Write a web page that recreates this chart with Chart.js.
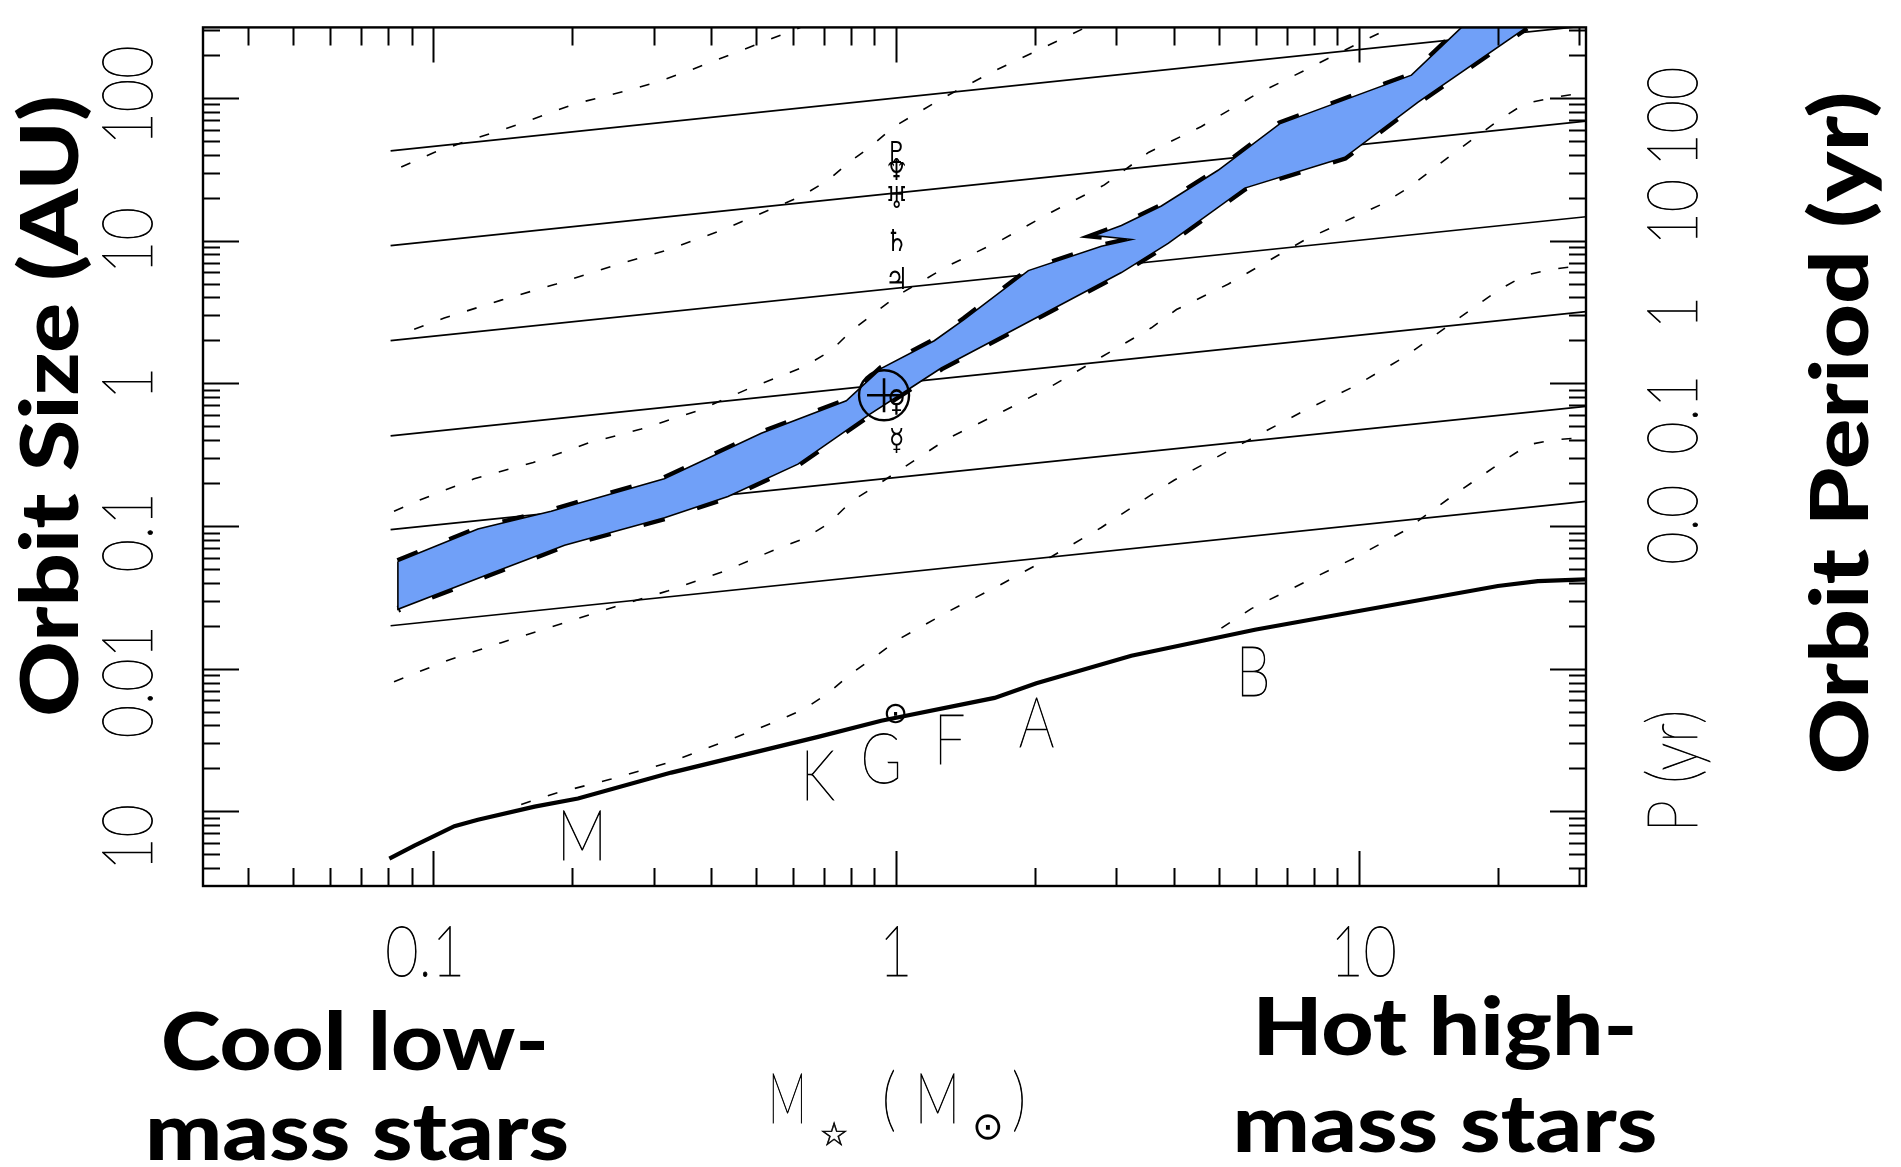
<!DOCTYPE html>
<html>
<head>
<meta charset="utf-8">
<title>Orbit size and period vs stellar mass</title>
<script src="https://cdn.jsdelivr.net/npm/chart.js@4.4.0/dist/chart.umd.min.js"></script>
<style>
  html, body { margin: 0; padding: 0; background: #fff; }
  #wrap { position: relative; width: 1901px; height: 1167px; }
</style>
</head>
<body>
<div id="wrap"><canvas id="orbitChart" width="1901" height="1167"></canvas></div>
<script>
// axis ranges: stellar mass (Msun) and orbit size (AU)
const massRange = [0.0319, 31.0];
const auRange = [3.19e-4, 312];

// constant-period lines, P = 1000 ... 0.01 yr
const periodNames = ['1000', '100', '10', '1', '0.1', '0.01'];
const periodMass = [0.0811, 31.0];
const periodAUStart = [42.6, 9.23, 1.99, 0.428, 0.0942, 0.0200];
const periodAUEnd = [320, 68.7, 14.7, 3.18, 0.689, 0.149];

// habitable zone, outer and inner edge
const hzOuterMass = [0.0841, 0.1252, 0.1803, 0.2021, 0.3164, 0.5126, 0.7824, 0.9314, 1.212, 1.407, 1.935, 2.783, 3.231, 2.687, 3.074, 3.751, 4.973, 6.755, 13.01, 16.69];
const hzOuterAU = [0.0563, 0.0953, 0.1270, 0.1417, 0.2143, 0.4465, 0.7535, 1.274, 1.988, 2.809, 6.164, 9.13, 10.19, 10.85, 12.76, 17.47, 31.1, 65.8, 144.4, 312];
const hzInnerMass = [0.0841, 0.1316, 0.1927, 0.3168, 0.4344, 0.6152, 0.8717, 1.081, 1.255, 1.778, 3.074, 3.879, 5.677, 9.338, 13.45, 23.06];
const hzInnerAU = [0.0261, 0.0457, 0.0733, 0.1143, 0.1607, 0.2713, 0.5953, 0.9347, 1.280, 2.326, 5.972, 9.57, 23.33, 38.33, 93.5, 312];

// dashed flux curves
const flux1Mass = [0.0855, 0.1007, 0.1170, 0.1530, 0.2021, 0.2658, 0.3071, 0.3565, 0.4641, 0.6254];
const flux1AU = [32.8, 41.5, 49.1, 65.1, 90.6, 113.4, 130.0, 154.6, 215.0, 313.5];
const flux2Mass = [0.0912, 0.1059, 0.1406, 0.1849, 0.2455, 0.3194, 0.4201, 0.5579, 0.6254, 0.7153, 0.7943, 0.8773, 0.9936, 1.274, 1.634, 2.138, 2.583];
const flux2AU = [2.389, 2.866, 3.827, 4.969, 6.667, 8.532, 11.79, 17.47, 20.45, 26.58, 35.44, 44.87, 63.1, 101.1, 154.6, 233.7, 313.5];
const flux3Mass = [0.0825, 0.0944, 0.1229, 0.1649, 0.2168, 0.2821, 0.3748, 0.4879, 0.6344, 0.7261, 0.8020, 0.8995, 1.0135, 1.300, 1.692, 2.170, 2.825, 3.517, 4.577, 5.958, 7.603, 9.800, 11.78];
const flux3AU = [0.1270, 0.1534, 0.2144, 0.2787, 0.3815, 0.4777, 0.6441, 0.9346, 1.306, 1.698, 2.326, 3.100, 4.160, 6.667, 10.08, 15.82, 24.57, 41.48, 63.1, 104.3, 154.6, 233.7, 313.5];
const flux4Mass = [0.0825, 0.1080, 0.1406, 0.1867, 0.2467, 0.3227, 0.4264, 0.5579, 0.6350, 0.7153, 0.8020, 0.8995, 1.029, 1.300, 1.667, 2.170, 2.783, 3.569, 4.043, 5.236, 7.641, 11.21, 12.82, 16.12, 20.36, 22.84, 26.51, 31.24];
const flux4AU = [8.11e-3, 0.01147, 0.01522, 0.02029, 0.02709, 0.03516, 0.04815, 0.06990, 0.08176, 0.1035, 0.1486, 0.1881, 0.2507, 0.4127, 0.6113, 0.954, 1.529, 2.449, 3.287, 4.969, 10.08, 17.94, 23.44, 41.48, 71.9, 91.0, 101.1, 109.4];
const flux5Mass = [0.1553, 0.1830, 0.2430, 0.3227, 0.4264, 0.5579, 0.6350, 0.7153, 0.8020, 0.8995, 1.0135, 1.300, 1.692, 2.170, 2.783, 3.517, 4.003, 5.236, 7.641, 9.800, 12.57, 16.12, 20.06, 22.84, 26.12, 31.24];
const flux5AU = [1.119e-3, 1.331e-3, 1.685e-3, 2.191e-3, 3.076e-3, 4.326e-3, 5.226e-3, 6.752e-3, 9.245e-3, 0.01202, 0.01602, 0.02516, 0.03906, 0.06095, 0.09768, 0.1607, 0.2101, 0.3365, 0.6441, 0.954, 1.529, 2.721, 4.500, 5.696, 6.290, 6.773];
const flux6Mass = [5.056, 5.870, 7.641, 9.800, 12.57, 15.88, 20.06, 23.29, 26.51, 31.24];
const flux6AU = [0.01926, 0.02637, 0.04031, 0.05970, 0.09273, 0.1607, 0.2713, 0.3715, 0.4018, 0.4194];

// stellar radius along the main sequence
const radiusMass = [0.0806, 0.0913, 0.1114, 0.1252, 0.166, 0.206, 0.3277, 0.680, 0.931, 1.636, 2.014, 3.23, 5.97, 9.81, 20.0, 24.4, 31.2];
const radiusAU = [4.67e-4, 5.76e-4, 7.88e-4, 8.75e-4, 1.08e-3, 1.23e-3, 1.87e-3, 3.33e-3, 4.32e-3, 6.24e-3, 7.90e-3, 0.01233, 0.01875, 0.02505, 0.0380, 0.0411, 0.0423];

// solar system at 1 Msun
const planetSymbols = ['\u263F', '\u2640', '\u2643', '\u2644', '\u2645', '\u2646', '\u2647'];
const planetAU = [0.387, 0.723, 5.2, 9.54, 19.2, 30.1, 39.5];
const earthMass = [0.944];
const earthAU = [0.824];
const sunMass = [1.0];
const sunAU = [4.75e-3];

// spectral classes along the radius curve
const spectralTypes = ['M', 'K', 'G', 'F', 'A', 'B'];
const spectralMass = [0.210, 0.678, 0.931, 1.308, 2.015, 5.92];
const spectralAU = [4.57e-4, 1.198e-3, 1.582e-3, 2.133e-3, 2.844e-3, 6.41e-3];

// ticks and tick labels
const massMajorTicks = [0.1, 1, 10];
const massMinorTicks = [0.04, 0.05, 0.06, 0.07, 0.08, 0.09, 0.2, 0.3, 0.4, 0.5, 0.6, 0.7, 0.8, 0.9, 2, 3, 4, 5, 6, 7, 8, 9, 20, 30];
const auMajorTicks = [0.001, 0.01, 0.1, 1, 10, 100];
const auMinorTicks = [4e-4, 5e-4, 6e-4, 7e-4, 8e-4, 9e-4,
  0.002, 0.003, 0.004, 0.005, 0.006, 0.007, 0.008, 0.009,
  0.02, 0.03, 0.04, 0.05, 0.06, 0.07, 0.08, 0.09,
  0.2, 0.3, 0.4, 0.5, 0.6, 0.7, 0.8, 0.9,
  2, 3, 4, 5, 6, 7, 8, 9, 20, 30, 40, 50, 60, 70, 80, 90, 200, 300];
const massTickLabels = ['0.1', '1', '10'];
const massTickLabelAt = [0.0963, 1, 10.25];
const auTickLabels = ['10', '0.01', '0.1', '1', '10', '100'];
const auTickLabelAt = [6.56e-4, 0.0081, 0.09, 1, 10, 104];
const periodTickLabels = ['0.0', '0.1', '1', '10', '100'];
const periodTickLabelAt = [0.102, 0.602, 3.13, 15.8, 73.8];

const pts = (xs, ys) => xs.map((x, i) => ({ x: x, y: ys[i] }));

const hzPolygon = pts(hzOuterMass, hzOuterAU)
  .concat(pts(hzInnerMass, hzInnerAU).reverse())
  .concat([{ x: hzOuterMass[0], y: hzOuterAU[0] }]);

const THIN = '200 70px Lato, "DejaVu Sans", sans-serif';
const BOLD = '900 80px Lato, "Open Sans", sans-serif';

const lineBase = { showLine: true, pointRadius: 0, pointHoverRadius: 0, fill: false, tension: 0, clip: 0 };

const periodSets = periodNames.map((p, i) => Object.assign({}, lineBase, {
  label: 'P = ' + p + ' yr',
  data: [{ x: periodMass[0], y: periodAUStart[i] }, { x: periodMass[1], y: periodAUEnd[i] }],
  borderColor: '#000', borderWidth: 1.7
}));

const fluxSets = [
  [flux1Mass, flux1AU], [flux2Mass, flux2AU], [flux3Mass, flux3AU],
  [flux4Mass, flux4AU], [flux5Mass, flux5AU], [flux6Mass, flux6AU]
].map((c, i) => Object.assign({}, lineBase, {
  label: 'flux ' + (i + 1),
  data: pts(c[0], c[1]),
  borderColor: '#000', borderWidth: 1.6, borderDash: [10, 18]
}));

// thin labels get a light outline so the strokes read as black lines
function drawText(ctx, text, x, y, opt) {
  ctx.save();
  ctx.translate(x, y);
  if (opt.rotate) ctx.rotate(opt.rotate);
  ctx.font = opt.font;
  ctx.textAlign = opt.align || 'center';
  ctx.textBaseline = opt.baseline || 'alphabetic';
  let sx = opt.scaleX || 1;
  if (opt.width) sx = opt.width / ctx.measureText(text).width;
  ctx.scale(sx, 1);
  ctx.fillStyle = '#000';
  ctx.fillText(text, 0, 0);
  if (opt.outline) {
    ctx.strokeStyle = '#000';
    ctx.lineWidth = opt.outline;
    ctx.strokeText(text, 0, 0);
  }
  ctx.restore();
}

const thinText = (extra) => Object.assign({ font: THIN, scaleX: 0.8, outline: 0.9 }, extra);

const framePlugin = {
  id: 'frame',
  afterDatasetsDraw(chart) {
    const { ctx, scales: { x, y } } = chart;
    // planet symbols over the 1 Msun column
    planetSymbols.forEach((s, i) => {
      drawText(ctx, s, x.getPixelForValue(1) + 1, y.getPixelForValue(planetAU[i]), {
        font: 'bold 30px "DejaVu Sans"', baseline: 'middle', scaleX: 0.85
      });
    });
    drawText(ctx, '\u2299', x.getPixelForValue(sunMass[0]), y.getPixelForValue(sunAU[0]), {
      font: '30px "DejaVu Sans"', baseline: 'middle'
    });
    spectralTypes.forEach((t, i) => {
      drawText(ctx, t, x.getPixelForValue(spectralMass[i]), y.getPixelForValue(spectralAU[i]), thinText({}));
    });
  },
  afterDraw(chart) {
    const { ctx, chartArea: a, scales: { x, y } } = chart;
    ctx.save();
    ctx.strokeStyle = '#000';
    ctx.lineWidth = 2;
    ctx.beginPath();
    const tickX = (v, len) => {
      const px = Math.round(x.getPixelForValue(v)) + 0.5;
      ctx.moveTo(px, a.bottom); ctx.lineTo(px, a.bottom - len);
      ctx.moveTo(px, a.top); ctx.lineTo(px, a.top + len);
    };
    const tickY = (v, len) => {
      const py = Math.round(y.getPixelForValue(v)) + 0.5;
      ctx.moveTo(a.left, py); ctx.lineTo(a.left + len, py);
      ctx.moveTo(a.right, py); ctx.lineTo(a.right - len, py);
    };
    massMajorTicks.forEach(v => tickX(v, 35));
    massMinorTicks.forEach(v => tickX(v, 18));
    auMajorTicks.forEach(v => tickY(v, 36));
    auMinorTicks.forEach(v => tickY(v, 17));
    ctx.stroke();
    ctx.lineWidth = 2.4;
    ctx.strokeRect(a.left, a.top, a.right - a.left, a.bottom - a.top);
    ctx.restore();

    // tick labels
    massTickLabels.forEach((t, i) => {
      drawText(ctx, t, x.getPixelForValue(massTickLabelAt[i]), 976, thinText({ scaleX: 0.82 }));
    });
    auTickLabels.forEach((t, i) => {
      drawText(ctx, t, 152, y.getPixelForValue(auTickLabelAt[i]), thinText({ scaleX: 0.82, rotate: -Math.PI / 2 }));
    });
    periodTickLabels.forEach((t, i) => {
      drawText(ctx, t, 1697, y.getPixelForValue(periodTickLabelAt[i]), thinText({ scaleX: 0.82, rotate: -Math.PI / 2 }));
    });
    drawText(ctx, 'P (yr)', 1697, 771, thinText({ scaleX: 0.82, rotate: -Math.PI / 2 }));

    // mass axis title M* (Msun)
    drawText(ctx, 'M', 768, 1123, thinText({ scaleX: 0.62, align: 'left' }));
    drawText(ctx, '\u2606', 834, 1145, { font: '32px "DejaVu Sans"', outline: 0.6 });
    drawText(ctx, '(', 882, 1123, thinText({ align: 'left' }));
    drawText(ctx, 'M', 915, 1123, thinText({ scaleX: 0.72, align: 'left' }));
    drawText(ctx, '\u2299', 988, 1129, { font: '38px "DejaVu Sans"', baseline: 'middle' });
    drawText(ctx, ')', 1012, 1123, thinText({ align: 'left' }));

    // bold annotations
    drawText(ctx, 'Orbit Size (AU)', 78, 406, { font: BOLD, width: 622, rotate: -Math.PI / 2 });
    drawText(ctx, 'Orbit Period (yr)', 1868, 433, { font: BOLD, width: 683, rotate: -Math.PI / 2 });
    drawText(ctx, 'Cool low-', 355, 1070, { font: BOLD, width: 388 });
    drawText(ctx, 'mass stars', 357, 1160, { font: BOLD, width: 424 });
    drawText(ctx, 'Hot high-', 1445, 1055, { font: BOLD, width: 385 });
    drawText(ctx, 'mass stars', 1445, 1152, { font: BOLD, width: 425 });
  }
};

new Chart(document.getElementById('orbitChart').getContext('2d'), {
  type: 'scatter',
  data: {
    datasets: [
      {
        label: 'Earth', data: pts(earthMass, earthAU), showLine: false, clip: false,
        pointStyle: 'circle', pointRadius: 25, pointBorderWidth: 2.4,
        pointBorderColor: '#000', pointBackgroundColor: 'rgba(0,0,0,0)'
      },
      {
        label: 'Earth cross', data: pts(earthMass, earthAU), showLine: false, clip: false,
        pointStyle: 'cross', pointRadius: 17, pointBorderWidth: 2.6, pointBorderColor: '#000'
      },
      Object.assign({}, lineBase, {
        label: 'Habitable zone', data: hzPolygon, fill: 'shape',
        backgroundColor: '#70a0f8', borderColor: '#000', borderWidth: 1.6
      }),
      Object.assign({}, lineBase, {
        label: 'HZ outer limit', data: pts(hzOuterMass, hzOuterAU),
        borderColor: '#000', borderWidth: 7, borderDash: [22, 34]
      }),
      Object.assign({}, lineBase, {
        label: 'HZ inner limit', data: pts(hzInnerMass, hzInnerAU),
        borderColor: '#000', borderWidth: 7, borderDash: [22, 34], borderDashOffset: 20
      }),
      ...periodSets,
      ...fluxSets,
      Object.assign({}, lineBase, {
        label: 'Stellar radius', data: pts(radiusMass, radiusAU),
        borderColor: '#000', borderWidth: 4.2
      })
    ]
  },
  options: {
    responsive: false,
    devicePixelRatio: 1,
    animation: false,
    events: [],
    layout: { padding: { left: 203, right: 315, top: 8, bottom: 281 } },
    plugins: { legend: { display: false }, tooltip: { enabled: false } },
    scales: {
      x: { type: 'logarithmic', min: massRange[0], max: massRange[1], display: false },
      y: { type: 'logarithmic', min: auRange[0], max: auRange[1], display: false }
    }
  },
  plugins: [framePlugin]
});
</script>
</body>
</html>
